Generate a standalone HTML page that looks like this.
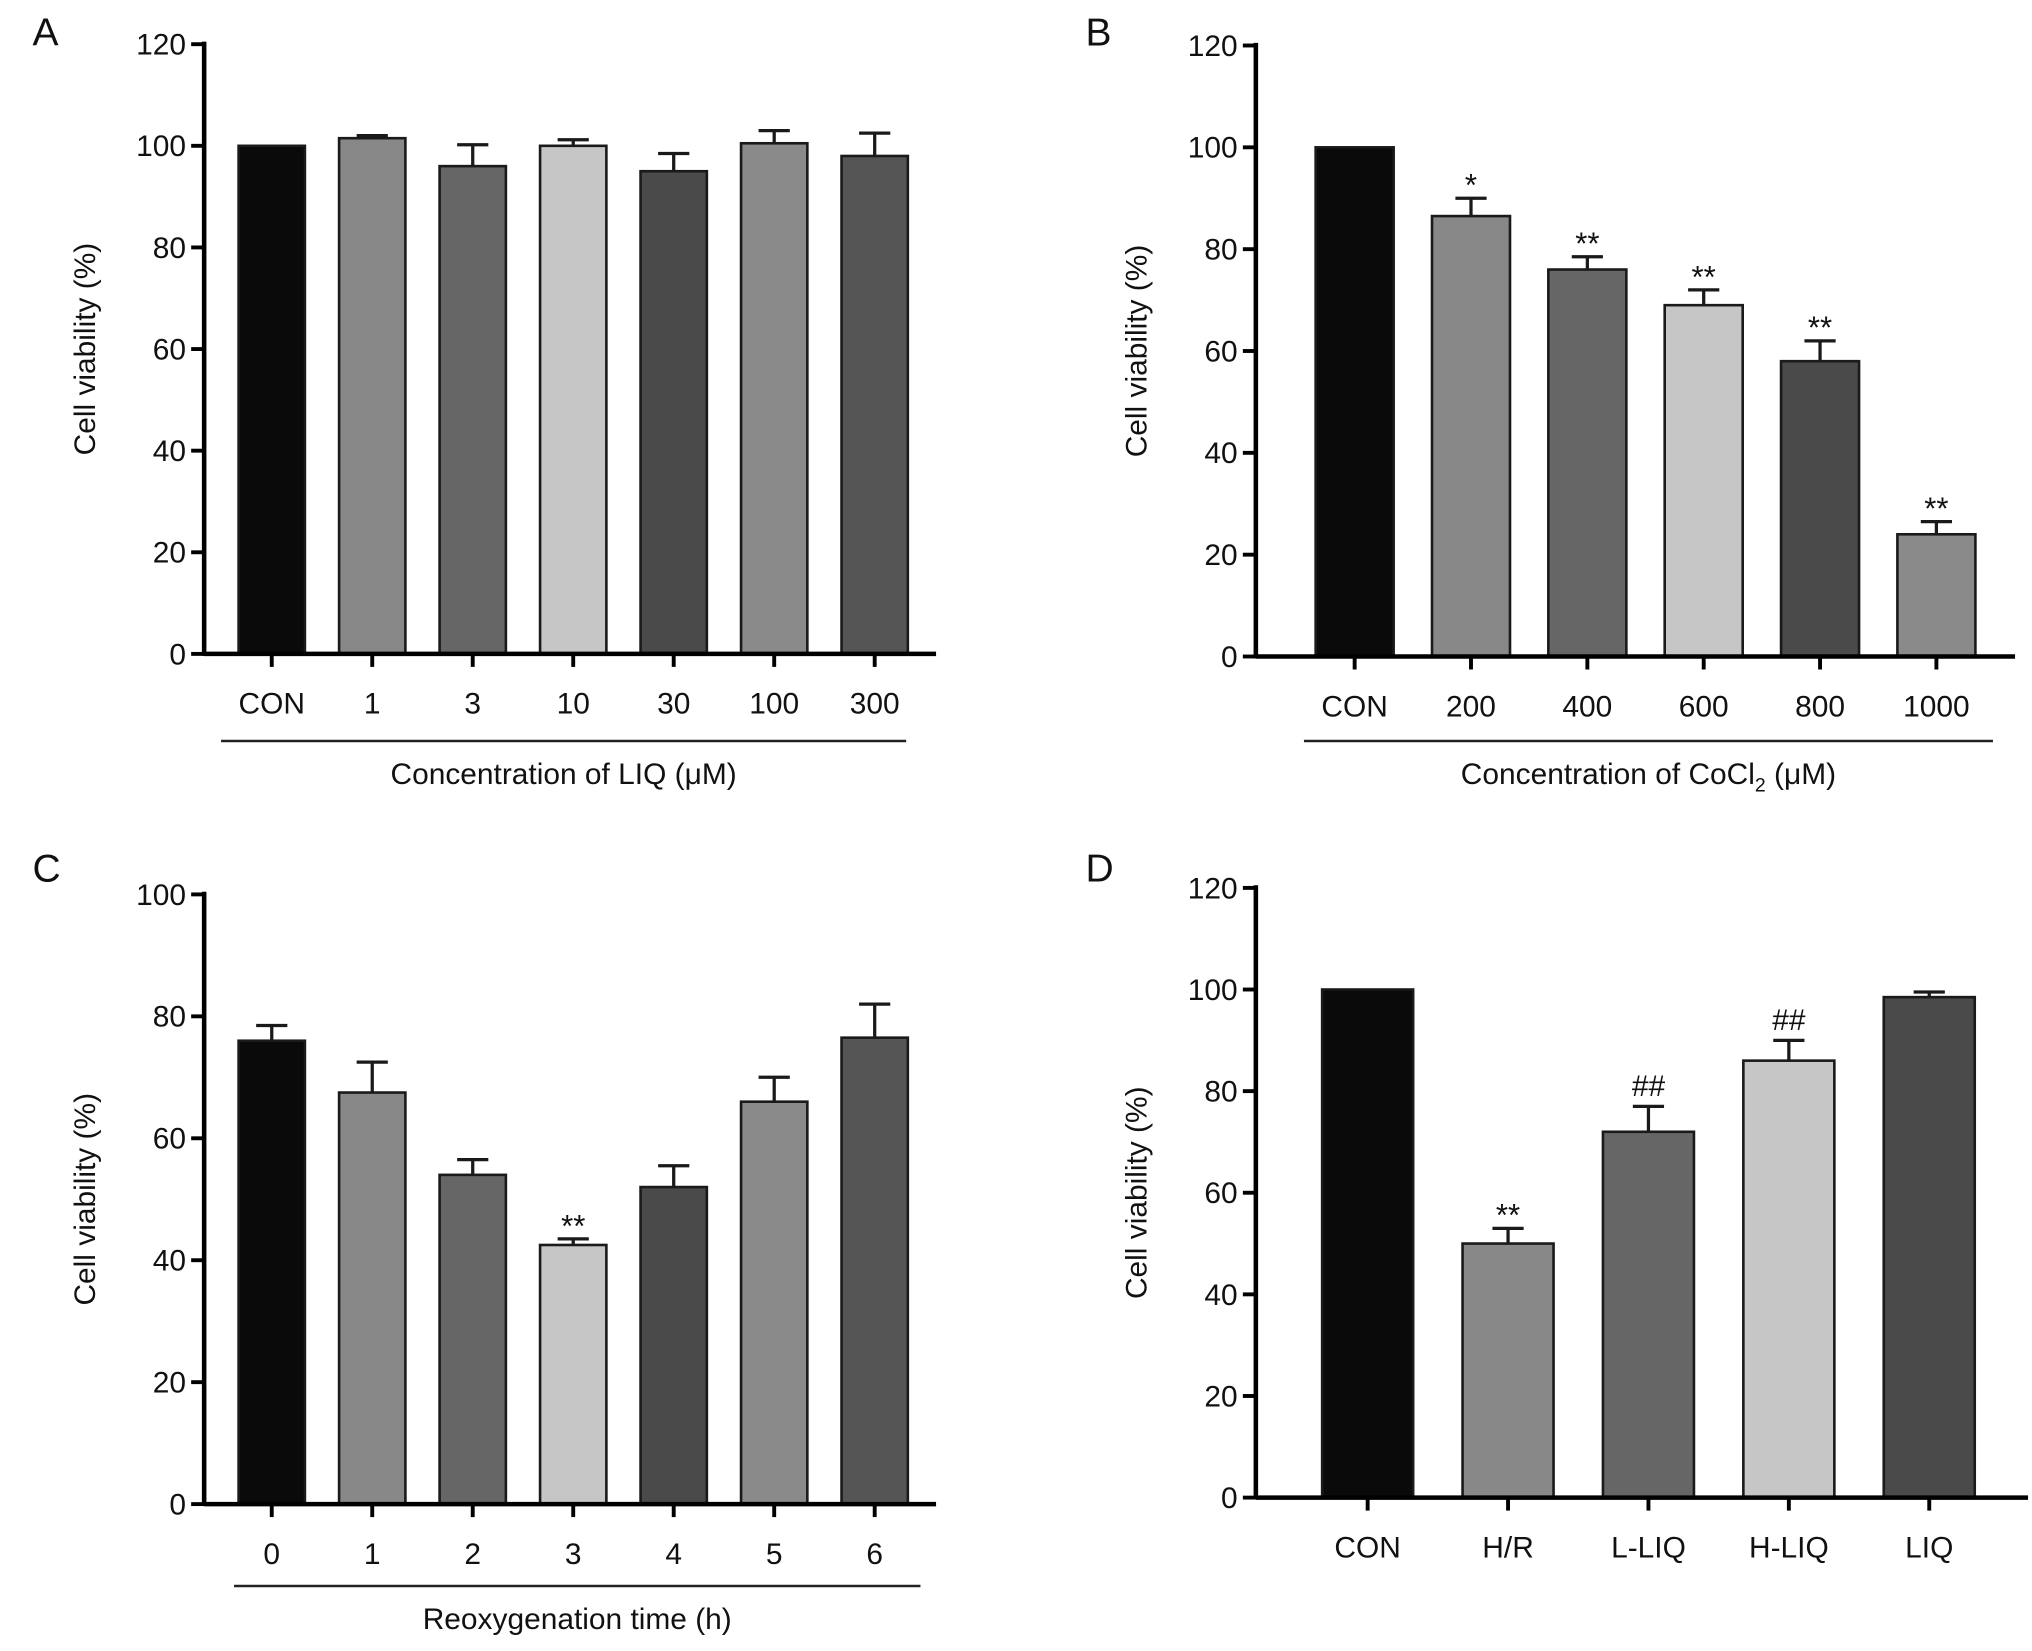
<!DOCTYPE html>
<html><head><meta charset="utf-8"><style>
html,body{margin:0;padding:0;background:#fff}
svg{display:block}
text{font-family:"Liberation Sans",Arial,sans-serif;fill:#111}
</style></head><body>
<svg id="fig" width="2032" height="1651" viewBox="0 0 1563 1270" xmlns="http://www.w3.org/2000/svg"></svg>
<script>
// Panel A data
const catsA = ["CON","1","3","10","30","100","300"];
const valsA = [100,101.5,96,100,95,100.5,98];
const errsA = [0,0.5,4.2,1.2,3.5,2.5,4.5];
const sigA = ["","","","","","",""];
const ticksA = [0,20,40,60,80,100,120];
// Panel B data
const catsB = ["CON","200","400","600","800","1000"];
const valsB = [100,86.5,76,69,58,24];
const errsB = [0,3.5,2.5,3,4,2.5];
const sigB = ["","*","**","**","**","**"];
const ticksB = [0,20,40,60,80,100,120];
// Panel C data
const catsC = ["0","1","2","3","4","5","6"];
const valsC = [76,67.5,54,42.5,52,66,76.5];
const errsC = [2.5,5,2.5,1,3.5,4,5.5];
const sigC = ["","","","**","","",""];
const ticksC = [0,20,40,60,80,100];
// Panel D data
const catsD = ["CON","H/R","L-LIQ","H-LIQ","LIQ"];
const valsD = [100,50,72,86,98.5];
const errsD = [0,3,5,4,1];
const sigD = ["","**","##","##",""];
const ticksD = [0,20,40,60,80,100,120];

const NS="http://www.w3.org/2000/svg";
const svg=document.getElementById('fig');
function mk(tag,attrs,parent,txt){const e=document.createElementNS(NS,tag);for(const k in attrs)e.setAttribute(k,attrs[k]);if(txt!==undefined)e.textContent=txt;(parent||svg).appendChild(e);return e;}

function panel(o){
  const g=mk('g',{});
  
  
  const ymax=o.ticks[o.ticks.length-1];
  const ys=v=>o.y0-(v/ymax)*(o.y0-o.yTop);
  const xs=i=>o.x0c+i*o.step;
  const lt=mk('text',{x:o.lx,y:o.ly,'font-size':30},g,o.letter);
  
  
  o.vals.forEach((v,i)=>{
    const r=mk('rect',{x:xs(i)-o.bw/2,y:ys(v),width:o.bw,height:o.y0-ys(v),fill:o.colors[i],stroke:'#1a1a1a','stroke-width':2},g);
    
    
    if(o.errs[i]>0){
      const top=ys(v+o.errs[i]);
      const eb=mk('path',{d:`M${xs(i)} ${ys(v)} V${top} M${xs(i)-12} ${top} H${xs(i)+12}`,stroke:'#1a1a1a','stroke-width':2.5,fill:'none'},g);
      
      
    }
    if(o.sig[i]){
      const st=mk('text',{x:xs(i),y:ys(v+o.errs[i])-(o.sig[i][0]=='#'?8:2),'font-size':o.sig[i][0]=='#'?23:24,'text-anchor':'middle'},g,o.sig[i]);
      
      
    }
    const tk=mk('line',{x1:xs(i),x2:xs(i),y1:o.y0,y2:o.y0+10,stroke:'#000','stroke-width':3},g);
    
    
    const tl=mk('text',{x:xs(i),y:o.y0+46,'font-size':23,'text-anchor':'middle'},g,o.cats[i]);
    
    
  });
  const ya=mk('line',{x1:o.ax,x2:o.ax,y1:o.yTop-2,y2:o.y0+1.5,stroke:'#000','stroke-width':3.5},g);
  
  
  const xa=mk('line',{x1:o.ax,x2:o.xEnd,y1:o.y0,y2:o.y0,stroke:'#000','stroke-width':3.5},g);
  
  
  o.ticks.forEach(t=>{
    const l=mk('line',{x1:o.ax-10,x2:o.ax,y1:ys(t),y2:ys(t),stroke:'#000','stroke-width':3},g);
    
    
    const tt=mk('text',{x:o.ax-14,y:ys(t)+8,'font-size':23,'text-anchor':'end'},g,String(t));
    
    
  });
  const yt=mk('text',{x:0,y:0,'font-size':23,'text-anchor':'middle',transform:`translate(${o.ax-84},${(o.y0+o.yTop)/2}) rotate(-90)`},g,'Cell viability (%)');
  
  
  if(o.ul){
    const u=mk('line',{x1:o.ul[0],x2:o.ul[1],y1:o.ul[2],y2:o.ul[2],stroke:'#222','stroke-width':2},g);
    
    
    const xt=mk('text',{x:(o.ul[0]+o.ul[1])/2,y:o.ul[2]+33,'font-size':23,'text-anchor':'middle'},g);
    xt.innerHTML=o.title;
    
    
  }
}
const cA=['#0a0a0a','#888','#666','#c6c6c6','#4a4a4a','#8a8a8a','#555'];
panel({letter:'A',lx:25,ly:35,cats:catsA,vals:valsA,errs:errsA,sig:sigA,ticks:ticksA,ax:157,y0:503,yTop:34,x0c:209,step:77.3,bw:51,xEnd:720,colors:cA,ul:[170,697,570],title:'Concentration of LIQ (μM)'});
panel({letter:'B',lx:835,ly:35,cats:catsB,vals:valsB,errs:errsB,sig:sigB,ticks:ticksB,ax:966,y0:505,yTop:35,x0c:1042,step:89.5,bw:60,xEnd:1550,colors:['#0a0a0a','#888','#666','#c6c6c6','#4a4a4a','#8a8a8a'],ul:[1003,1533,570],title:'Concentration of CoCl<tspan font-size="15" dy="6">2</tspan><tspan dy="-6"> (μM)</tspan>'});
panel({letter:'C',lx:25,ly:678,cats:catsC,vals:valsC,errs:errsC,sig:sigC,ticks:ticksC,ax:157,y0:1157,yTop:688,x0c:209,step:77.3,bw:51,xEnd:720,colors:cA,ul:[180,708,1220],title:'Reoxygenation time (h)'});
panel({letter:'D',lx:835,ly:678,cats:catsD,vals:valsD,errs:errsD,sig:sigD,ticks:ticksD,ax:966,y0:1152,yTop:683,x0c:1052,step:108,bw:70,xEnd:1560,colors:['#0a0a0a','#888','#666','#c6c6c6','#4a4a4a']});
</script>
</body></html>
